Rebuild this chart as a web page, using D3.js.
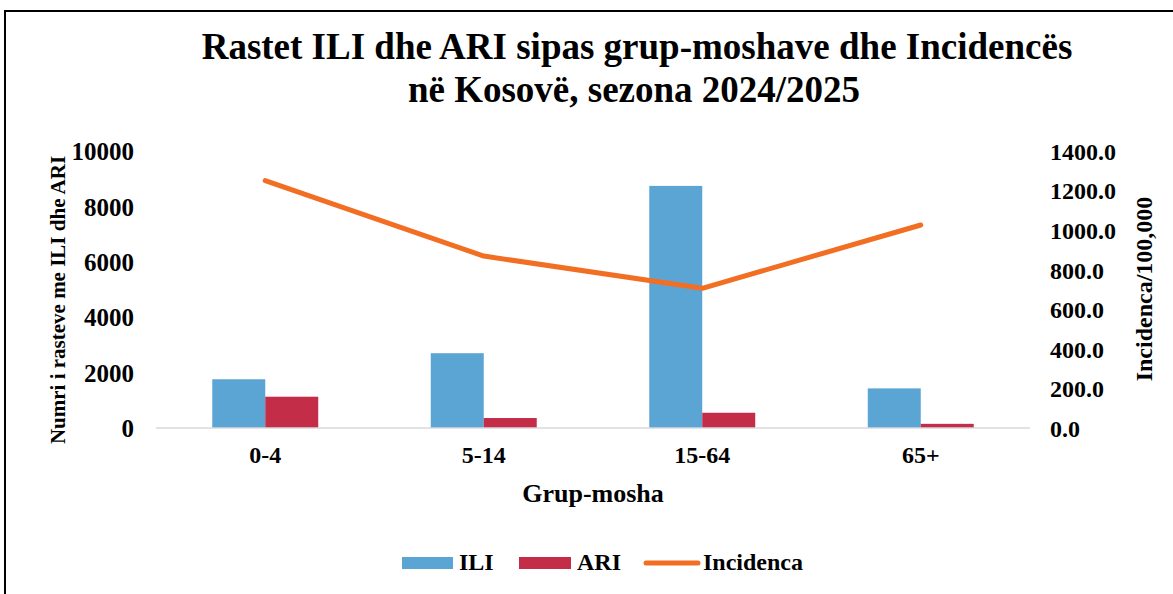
<!DOCTYPE html>
<html lang="sq">
<head>
<meta charset="UTF-8">
<title>Rastet ILI dhe ARI</title>
<style>
  body { margin: 0; background: #fff; }
  svg text { font-family: "Liberation Serif", "Times New Roman", serif; font-weight: bold; fill: #000; }
</style>
</head>
<body>
<div id="chart"></div>
<script src="https://d3js.org/d3.v7.min.js"></script>
<script>
// data
var groups = ["0-4", "5-14", "15-64", "65+"];
var seriesNames = ["ILI", "ARI"];
var iliValues = [1760, 2700, 8740, 1430];
var ariValues = [1130, 360, 550, 150];
var incidence = [1250, 869, 706, 1026];
var leftTicks = [0, 2000, 4000, 6000, 8000, 10000];
var rightTicks = [0, 200, 400, 600, 800, 1000, 1200, 1400];

var W = 1173, H = 594;
var colors = { ILI: "#5ba5d5", ARI: "#c42d48", line: "#f26e22" };

var svg = d3.select("#chart").append("svg")
  .attr("width", W).attr("height", H);

// frame (top and left edges visible)
svg.append("path")
  .attr("d", "M5,594 V11 H1173")
  .attr("fill", "none").attr("stroke", "#000").attr("stroke-width", 2);

// title
var title = svg.append("text").attr("text-anchor", "middle").style("font-size", "37px");
title.append("tspan").attr("x", 637).attr("y", 59).text("Rastet ILI dhe ARI sipas grup-moshave dhe Incidencës");
title.append("tspan").attr("x", 634).attr("y", 102).text("në Kosovë, sezona 2024/2025");

var plot = { left: 156, right: 1030, top: 151, bottom: 428 };

var x = d3.scaleBand().domain(groups)
  .range([plot.left, plot.right])
  .paddingInner(0.515).paddingOuter(0.2575);
var xSub = d3.scaleBand().domain(seriesNames).range([0, x.bandwidth()]);
var y = d3.scaleLinear().domain([0, 10000]).range([plot.bottom, plot.top]);
var y2 = d3.scaleLinear().domain([0, 1400]).range([plot.bottom, plot.top]);

// bars
var rows = groups.map(function (g, i) { return { group: g, ILI: iliValues[i], ARI: ariValues[i] }; });
svg.append("g").selectAll("g")
  .data(rows).enter().append("g")
  .attr("transform", function (d) { return "translate(" + x(d.group) + ",0)"; })
  .selectAll("rect")
  .data(function (d) { return seriesNames.map(function (s) { return { key: s, value: d[s] }; }); })
  .enter().append("rect")
  .attr("x", function (d) { return xSub(d.key); })
  .attr("y", function (d) { return y(d.value); })
  .attr("width", xSub.bandwidth())
  .attr("height", function (d) { return plot.bottom - y(d.value); })
  .attr("fill", function (d) { return colors[d.key]; });

// baseline
svg.append("line")
  .attr("x1", plot.left).attr("x2", plot.right)
  .attr("y1", plot.bottom).attr("y2", plot.bottom)
  .attr("stroke", "#d9d9d9").attr("stroke-width", 1.5);

// left axis
var yAxis = svg.append("g")
  .attr("transform", "translate(134,0)")
  .call(d3.axisLeft(y).tickValues(leftTicks).tickSize(0).tickPadding(0).tickFormat(d3.format("d")));
yAxis.select(".domain").remove();
yAxis.selectAll("text").style("font-size", "25px").attr("dy", "0.35em");

// right axis
var y2Axis = svg.append("g")
  .attr("transform", "translate(1050,0)")
  .call(d3.axisRight(y2).tickValues(rightTicks).tickSize(0).tickPadding(0).tickFormat(d3.format(".1f")));
y2Axis.select(".domain").remove();
y2Axis.selectAll("text").style("font-size", "24px").attr("dy", "0.35em");

// x axis labels
var xAxis = svg.append("g")
  .attr("transform", "translate(0," + plot.bottom + ")")
  .call(d3.axisBottom(x).tickSize(0).tickPadding(0));
xAxis.select(".domain").remove();
xAxis.selectAll("text").style("font-size", "24px").attr("y", 35).attr("dy", 0);

// axis titles
svg.append("text")
  .attr("transform", "translate(65,300) rotate(-90)")
  .attr("text-anchor", "middle").style("font-size", "21px")
  .text("Numri i rasteve me ILI dhe ARI");
svg.append("text")
  .attr("transform", "translate(1152,289) rotate(-90)")
  .attr("text-anchor", "middle").style("font-size", "24px")
  .text("Incidenca/100,000");
svg.append("text")
  .attr("x", 593).attr("y", 502)
  .attr("text-anchor", "middle").style("font-size", "26px")
  .text("Grup-mosha");

// incidence line
var line = d3.line()
  .x(function (d, i) { return x(groups[i]) + x.bandwidth() / 2; })
  .y(function (d) { return y2(d); });
svg.append("path")
  .datum(incidence)
  .attr("d", line)
  .attr("fill", "none")
  .attr("stroke", colors.line)
  .attr("stroke-width", 5)
  .attr("stroke-linecap", "round")
  .attr("stroke-linejoin", "round");

// legend
var legend = svg.append("g").attr("transform", "translate(0,563)");
legend.append("rect").attr("x", 402).attr("y", -6).attr("width", 51).attr("height", 12).attr("fill", colors.ILI);
legend.append("text").attr("x", 459).attr("y", 7).style("font-size", "24px").text("ILI");
legend.append("rect").attr("x", 519).attr("y", -6).attr("width", 52).attr("height", 12).attr("fill", colors.ARI);
legend.append("text").attr("x", 577).attr("y", 7).style("font-size", "24px").text("ARI");
legend.append("line").attr("x1", 646).attr("x2", 698).attr("y1", 0).attr("y2", 0)
  .attr("stroke", colors.line).attr("stroke-width", 5).attr("stroke-linecap", "round");
legend.append("text").attr("x", 703).attr("y", 7).style("font-size", "24px").text("Incidenca");
</script>
</body>
</html>
